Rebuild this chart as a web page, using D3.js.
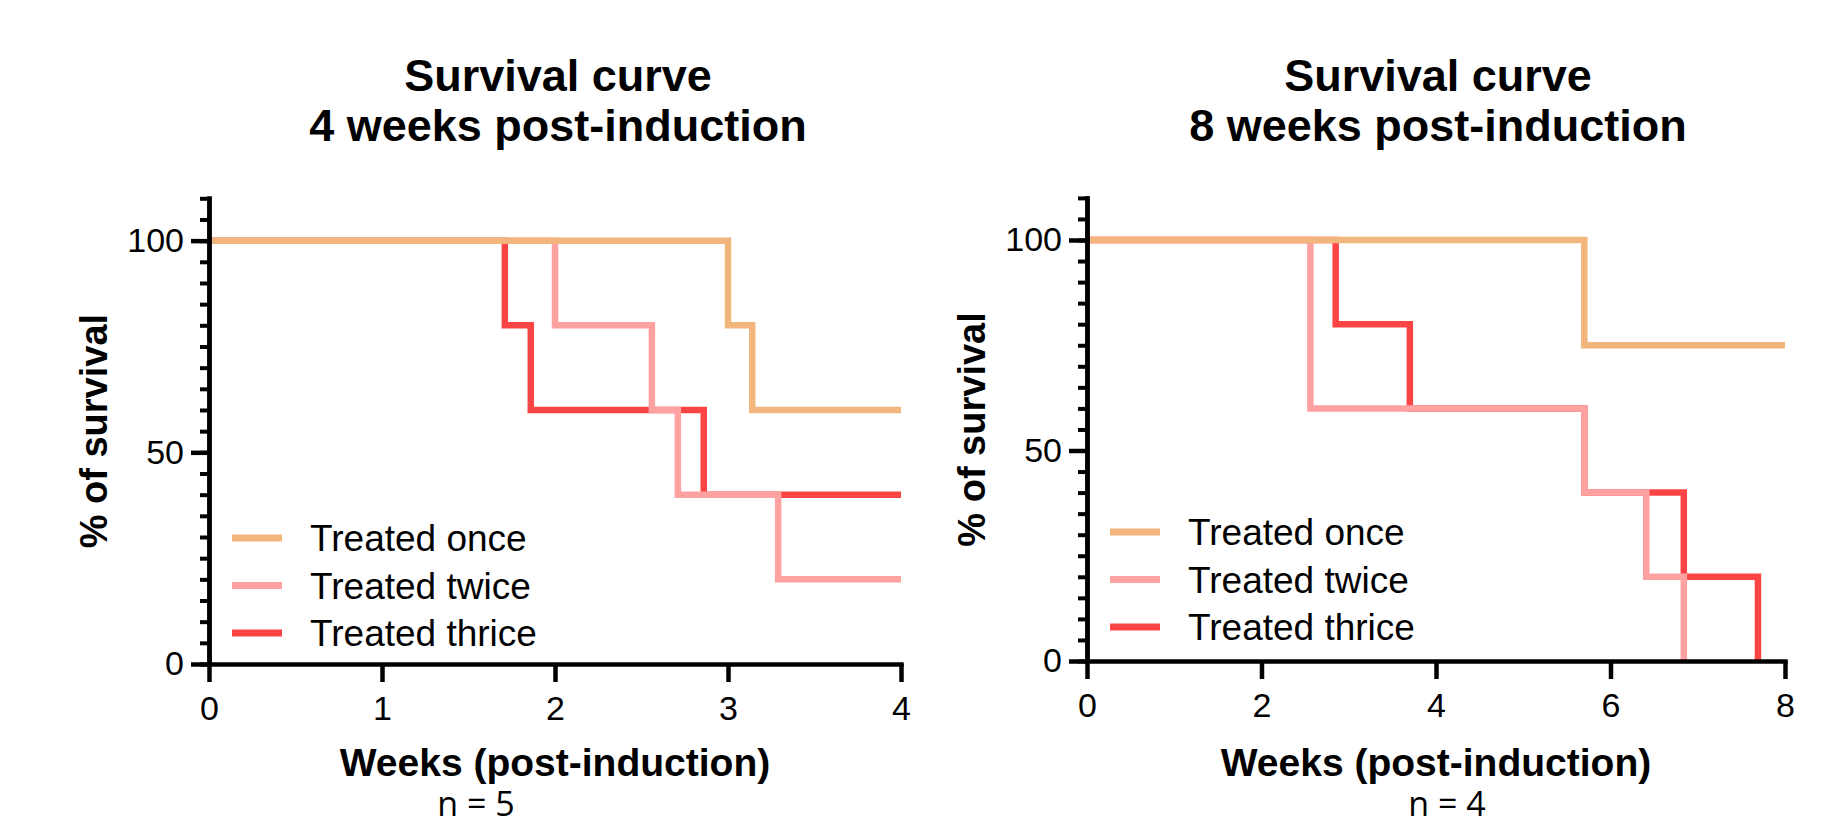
<!DOCTYPE html>
<html lang="en">
<head>
<meta charset="utf-8">
<title>Survival curves</title>
<script src="https://d3js.org/d3.v7.min.js"></script>
<style>
  body { margin: 0; background: #fff; }
  text { font-family: "Liberation Sans", Arial, sans-serif; fill: #000; }
</style>
</head>
<body>
<script>
// groups and colours
var groups = ["Treated once", "Treated twice", "Treated thrice"];
var colors = ["#F2B67C", "#FDA1A1", "#FB4545"];

// 4 weeks post-induction (n = 5): step times in weeks, % survival after each step
var weeks4Once = [0, 3.0, 3.14];
var surv4Once = [100, 80, 60];
var weeks4Twice = [0, 2.0, 2.56, 2.71, 3.29];
var surv4Twice = [100, 80, 60, 40, 20];
var weeks4Thrice = [0, 1.71, 1.86, 2.86];
var surv4Thrice = [100, 80, 60, 40];

// 8 weeks post-induction (n = 4)
var weeks8Once = [0, 5.7];
var surv8Once = [100, 75];
var weeks8Twice = [0, 2.56, 5.7, 6.41, 6.84];
var surv8Twice = [100, 60, 40, 20, 0];
var weeks8Thrice = [0, 2.85, 3.7, 5.7, 6.84, 7.69];
var surv8Thrice = [100, 80, 60, 40, 20, 0];

// axis ticks
var xTicks4 = [0, 1, 2, 3, 4];
var xTicks8 = [0, 2, 4, 6, 8];
var yTicksMajor = [0, 50, 100];
var yTicksMinor = [0, 5, 10, 15, 20, 25, 30, 35, 40, 45, 50, 55, 60, 65, 70, 75, 80, 85, 90, 95, 100, 105, 110];

var svg = d3.select("body").append("svg")
    .attr("width", 1833)
    .attr("height", 827);

function drawChart(cfg) {
    var x = d3.scaleLinear().domain([0, cfg.xMax]).range([cfg.left, cfg.right]);
    var y = d3.scaleLinear().domain([0, 110]).range([cfg.bottom, cfg.top]);
    var g = svg.append("g");

    // title
    var title = g.append("text")
        .attr("text-anchor", "middle")
        .attr("font-size", "45px")
        .attr("font-weight", "bold");
    title.append("tspan").attr("x", cfg.titleX).attr("y", 91).text("Survival curve");
    title.append("tspan").attr("x", cfg.titleX).attr("y", 141).text(cfg.title);

    // series, drawn bottom-up so "once" ends on top
    var line = d3.line()
        .x(function(d) { return x(d[0]); })
        .y(function(d) { return y(d[1]); })
        .curve(d3.curveStepAfter);

    for (var i = cfg.series.length - 1; i >= 0; i--) {
        var s = cfg.series[i];
        var pts = s.weeks.map(function(w, j) { return [w, s.surv[j]]; });
        var last = s.surv[s.surv.length - 1];
        if (last > 0) pts.push([cfg.xMax, last]);
        g.append("path")
            .attr("d", line(pts))
            .attr("fill", "none")
            .attr("stroke", colors[i])
            .attr("stroke-width", 6.5)
            .attr("stroke-linejoin", "miter");
    }

    // y axis: minor + major ticks
    var yMinor = g.append("g")
        .attr("transform", "translate(" + cfg.left + ",0)")
        .call(d3.axisLeft(y).tickValues(yTicksMinor).tickSize(9).tickSizeOuter(0).tickFormat(""));
    var yMajor = g.append("g")
        .attr("transform", "translate(" + cfg.left + ",0)")
        .call(d3.axisLeft(y).tickValues(yTicksMajor).tickSize(18).tickSizeOuter(0).tickPadding(7)
            .tickFormat(d3.format("d")));
    yMinor.selectAll("line").attr("stroke-width", 4);
    yMajor.selectAll("line").attr("stroke-width", 4.5);

    var xAxis = g.append("g")
        .attr("transform", "translate(0," + cfg.bottom + ")")
        .call(d3.axisBottom(x).tickValues(cfg.xTicks).tickSize(18).tickSizeOuter(0).tickPadding(14)
            .tickFormat(d3.format("d")));
    xAxis.selectAll("line").attr("stroke-width", 4.5);

    [yMinor, yMajor, xAxis].forEach(function(a) {
        a.select(".domain").attr("stroke-width", 4.5).attr("stroke-linecap", "square");
        a.selectAll("text").attr("font-size", "34px").attr("font-family", "Liberation Sans, Arial, sans-serif");
    });

    // axis titles
    g.append("text")
        .attr("x", (cfg.left + cfg.right) / 2)
        .attr("y", 776)
        .attr("text-anchor", "middle")
        .attr("font-size", "39px")
        .attr("font-weight", "bold")
        .text("Weeks (post-induction)");

    g.append("text")
        .attr("transform", "translate(" + (cfg.left - 102) + "," + ((y(0) + y(110)) / 2) + ") rotate(-90)")
        .attr("text-anchor", "middle")
        .attr("font-size", "38px")
        .attr("font-weight", "bold")
        .text("% of survival");

    g.append("text")
        .attr("x", cfg.nX)
        .attr("y", 816)
        .attr("text-anchor", "middle")
        .attr("font-size", "34px")
        .style("font-family", "'Open Sans', sans-serif")
        .text(cfg.n);

    // legend
    var leg = g.selectAll(".leg")
        .data(groups)
        .enter().append("g")
        .attr("transform", function(d, i) {
            return "translate(" + cfg.left + "," + (cfg.legendY + i * 47.5) + ")";
        });
    leg.append("line")
        .attr("x1", 23).attr("x2", 73)
        .attr("stroke", function(d, i) { return colors[i]; })
        .attr("stroke-width", 7);
    leg.append("text")
        .attr("x", 101)
        .attr("y", 13)
        .attr("font-size", "37px")
        .text(function(d) { return d; });
}

drawChart({
    left: 209, right: 901, top: 198.3, bottom: 664,
    xMax: 4, xTicks: xTicks4,
    title: "4 weeks post-induction", titleX: 558,
    n: "n = 5", nX: 476,
    legendY: 538,
    series: [
        { weeks: weeks4Once, surv: surv4Once },
        { weeks: weeks4Twice, surv: surv4Twice },
        { weeks: weeks4Thrice, surv: surv4Thrice }
    ]
});

drawChart({
    left: 1087, right: 1785, top: 197.9, bottom: 661,
    xMax: 8, xTicks: xTicks8,
    title: "8 weeks post-induction", titleX: 1438,
    n: "n = 4", nX: 1447,
    legendY: 532,
    series: [
        { weeks: weeks8Once, surv: surv8Once },
        { weeks: weeks8Twice, surv: surv8Twice },
        { weeks: weeks8Thrice, surv: surv8Thrice }
    ]
});
</script>
</body>
</html>
